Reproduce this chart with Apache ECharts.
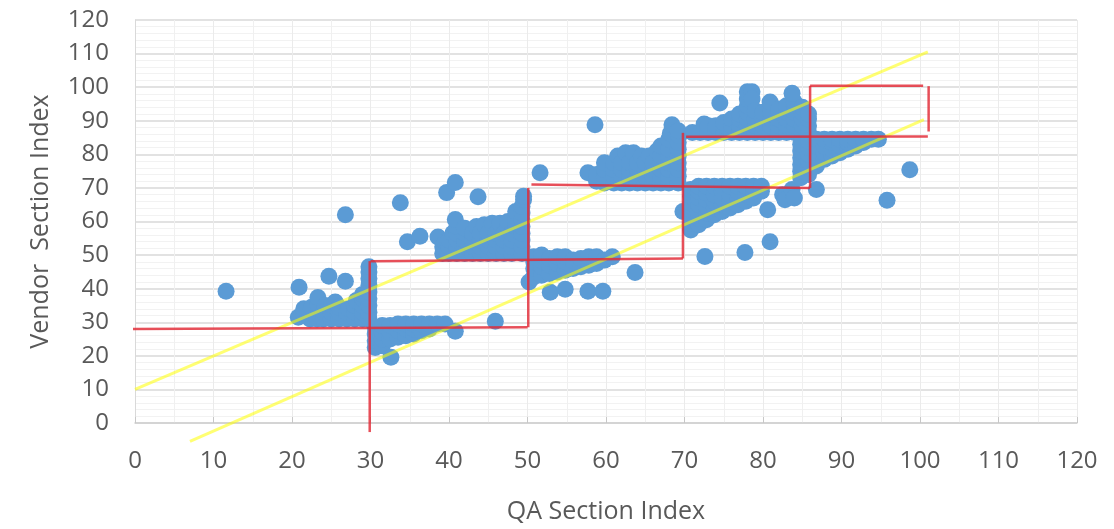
<!DOCTYPE html>
<html>
<head>
<meta charset="utf-8">
<script src="https://cdn.jsdelivr.net/npm/echarts@6/dist/echarts.min.js"></script>
<style>
  html, body { margin: 0; padding: 0; background: #ffffff; }
  #chart { width: 1114px; height: 529px; }
</style>
</head>
<body>
<div id="chart"></div>
<script>
// Axis settings
const axisMin = 0;
const axisMax = 120;
const tickStep = 10;
const xAxisTitle = 'QA Section Index';
const yAxisTitle = 'Vendor  Section Index';

// Section index pairs [QA, Vendor], grouped by QA range
const pointsQA10to30 = [
  [11.6,39.2],[20.9,40.4],[24.7,43.7],[26.8,42.2],[26.8,62],
  [20.8,31.5],[21.5,32.5],[21.5,34],[22.3,31],[22.3,33],[22.5,34.5],
  [23.2,31],[23.2,33],[23.3,35.3],[23.3,37.4],[24,31],[24,33],[24.2,35],
  [25,31],[25,33],[25,35],[25.5,36],[26,31],[26,33],[26,34.5],
  [27,31],[27,33],[27.2,34],[28,31],[28,33],[28,35],[28.2,36.5],
  [29,31],[29,33],[29,35],[29,37],[29,38.3],
  [29.8,31],[29.8,33],[29.8,35],[29.8,37],[29.8,39],[29.8,41],[29.8,43],[29.8,45],[29.8,46.5]
];
const pointsQA30to40 = [
  [30.6,22.5],[30.6,24.5],[30.6,26.5],[30.6,28.5],
  [31.5,23],[31.5,25],[31.5,27],[31.5,29],
  [32.5,25],[32.5,27],[32.5,29],[33.5,25.5],[33.5,27.5],[33.5,29.5],
  [34.5,26],[34.5,28],[34.5,29.5],[35.5,26.5],[35.5,28],[35.5,29.5],
  [36.5,27.5],[36.5,29.5],[37.5,28],[37.5,29.5],[38.5,29.5],[39.5,29.5],
  [32.6,19.6],[40.8,27.3],[45.9,30.3],
  [33.8,65.6],[34.7,54],[36.3,55.6],[38.6,55.4],[39.7,68.6]
];
const pointsQA40to50 = [
  [40.8,71.6],[43.7,67.4],
  [39.2,50.5],[39.2,52.5],[39.5,54],[40,50.5],[40,52.5],[40,54.5],[40.5,56.5],
  [41,50.5],[41,52.5],[41,54.5],[41,56.5],[41,58.5],[40.8,60.6],
  [42,50.5],[42,52.5],[42,54.5],[42,56.5],[42,58],
  [43,50.5],[43,52.5],[43,54.5],[43,56.5],[43.5,58.5],
  [44,50.5],[44,52.5],[44,54.5],[44,56.5],[44.5,59],
  [45,50.5],[45,52.5],[45,54.5],[45,56.5],[45.5,59.5],
  [46,50.5],[46,52.5],[46,54.5],[46,56.5],[46.5,59.5],
  [47,50.5],[47,52.5],[47,54.5],[47,56.5],[47.5,58.5],[47.5,60],
  [48,50.5],[48,52.5],[48,54.5],[48,56.5],[48.5,58.5],[48.5,60.5],[48.5,63],
  [49.3,50.5],[49.3,52.5],[49.3,54.5],[49.3,56.5],[49.3,58.5],[49.3,60.5],
  [49.3,62.5],[49.3,64.5],[49.5,66.5],[49.5,67.5]
];
const pointsQA50to60 = [
  [50.2,42],[51.6,74.5],[52.9,38.9],[54.8,39.8],[57.7,39.2],[59.6,39.2],
  [50.8,43.5],[50.8,46],[50.8,48],[50.8,49.5],[51.8,44],[51.8,46.5],[51.8,48.5],[51.8,50],
  [52.8,44.5],[52.8,47],[52.8,49],[53.8,45],[53.8,47.5],[53.8,49.5],
  [54.8,45.5],[54.8,48],[54.8,49.5],[55.8,46],[55.8,48.5],[56.8,46.5],[56.8,49],
  [57.8,47],[57.8,49.5],[58.8,47.5],[58.8,49.5],[59.8,48.5],[60.8,49.5],
  [58.6,88.8],[57.7,74.5],[58.8,72],[58.8,74],
  [59.8,71.5],[59.8,73.5],[59.8,75.5],[59.8,77.5]
];
const pointsQA60to70 = [
  [63.7,44.8],
  [61,71.5],[61,73.5],[61,75.5],[61,77.5],[61.5,79.5],
  [62,71.5],[62,73.5],[62,75.5],[62,77.5],[62.5,80.5],
  [63,71.5],[63,73.5],[63,75.5],[63,77.5],[63.5,80.5],
  [64,71.5],[64,73.5],[64,75.5],[64,77.5],[64.5,79.5],
  [65,71.5],[65,73.5],[65,75.5],[65,77.5],[65.5,79.5],
  [66,71.5],[66,73.5],[66,75.5],[66,77.5],[66.5,81],
  [67,71.5],[67,73.5],[67,75.5],[67,77.5],[67,79.5],[67,82.5],
  [68,71.5],[68,73.5],[68,75.5],[68,77.5],[68,79.5],[68,81.5],[68,84.5],[68.2,86.3],[68.4,88.8],
  [69.2,71.5],[69.2,73.5],[69.2,75.5],[69.2,77.5],[69.2,79.5],[69.2,81.5],
  [69.2,83.5],[69.3,85.5],[69.2,87],[69.8,63]
];
const pointsQA70to80 = [
  [72.6,49.6],[77.7,50.8],[74.5,95.3],
  [70.8,57.5],[70.8,59.5],[70.8,61.5],[70.8,63.5],[70.8,65.5],[70.8,67.5],[70.8,69.5],
  [71.8,59],[71.8,61],[71.8,63],[71.8,65],[71.8,67],[71.8,69],[71.8,70.5],
  [72.8,60.5],[72.8,62.5],[72.8,64.5],[72.8,66.5],[72.8,68.5],[72.8,70.5],
  [73.8,62],[73.8,64],[73.8,66],[73.8,68],[73.8,70.5],
  [74.8,63],[74.8,65],[74.8,67],[74.8,69],[74.8,70.5],
  [75.8,64],[75.8,66],[75.8,68],[75.8,70.5],
  [76.8,65],[76.8,67],[76.8,69],[76.8,70.5],
  [77.8,66],[77.8,68],[77.8,70.5],[78.8,67],[78.8,69],[78.8,70.5],
  [79.8,69],[79.8,70.5],
  [71,86.5],[72,86.5],[72.5,89],[73,86.5],[73,88.5],[74,86.5],[74,88.5],
  [75,86.5],[75,88.5],[75,89.5],[76,86.5],[76,88.5],[76,90.5],
  [77,86.5],[77,88.5],[77,90.5],[77,92],
  [78,86.5],[78,88.5],[78,90.5],[78,92.5],[78,94.5],[78,96.5],[78,98.6],
  [78.6,98.6],[78.6,96.5],
  [79,86.5],[79,88.5],[79,90.5],[79,93]
];
const pointsQA80to100 = [
  [80.9,54],[80.6,63.5],[82.5,68],[82.8,66.5],[83.7,69.5],[84,67],[86.8,69.5],[95.8,66.3],[98.7,75.4],
  [80,86.5],[80,88.5],[80,90.5],[80,92.5],
  [81,86.5],[81,88.5],[81,90.5],[81,92.5],[80.9,95.6],
  [82,86.5],[82,88.5],[82,90.5],[82,92.5],[82,93.5],
  [83,86.5],[83,88.5],[83,90.5],[83,92.5],[83,94.5],
  [84,86.5],[84,88.5],[84,90.5],[84,92.5],[84,94.5],[84,95.5],[83.7,98.2],
  [85,86.5],[85,88.5],[85,90.5],[85,92.5],[85,94],
  [85.8,86.5],[85.8,88.5],[85.8,90.5],[85.8,92],
  [84.8,73],[84.8,75],[84.8,77],[84.8,79],[84.8,81],[84.8,83],
  [85.8,74],[85.8,76],[85.8,78],[85.8,80],[85.8,82],[85.8,84],
  [86.8,76.5],[86.8,78.5],[86.8,80.5],[86.8,82.5],[86.8,84.5],
  [87.8,78.5],[87.8,80.5],[87.8,82.5],[87.8,84.5],
  [88.8,79.5],[88.8,81.5],[88.8,83.5],[88.8,84.5],
  [89.8,80.5],[89.8,82.5],[89.8,84.5],
  [90.8,81.5],[90.8,83.5],[90.8,84.5],
  [91.8,82.5],[91.8,84.5],[92.8,83.5],[92.8,84.5],[93.8,84.5],[94.7,84.5]
];

// Tolerance band edges (yellow)
const upperBandLine = [[0, 10], [101, 110.5]];
const lowerBandLine = [[7, -5.5], [100.5, 90.3]];

// Section boundary segments (red), each [start, end]
const boundarySegments = [
  [[-0.5, 28], [50, 28.5]],
  [[29.9, -2.7], [29.9, 48.2]],
  [[30, 48.2], [69.8, 49]],
  [[50.1, 28.5], [50.1, 70]],
  [[50.5, 71], [86, 70]],
  [[69.8, 49], [69.8, 86.4]],
  [[70.2, 85.2], [101, 85.3]],
  [[86, 70], [86, 100.4]],
  [[86, 100.4], [100.4, 100.4]],
  [[101.1, 86.8], [101.1, 100.3]]
];

const allPoints = [].concat(
  pointsQA10to30, pointsQA30to40, pointsQA40to50, pointsQA50to60,
  pointsQA60to70, pointsQA70to80, pointsQA80to100
);

const textColor = '#595959';
const fontFamily = '"Open Sans", "Liberation Sans", sans-serif';

const series = [
  {
    type: 'scatter',
    data: allPoints,
    symbolSize: 17,
    itemStyle: { color: '#5b9bd5', opacity: 1 },
    z: 2,
    silent: true
  },
  {
    type: 'line',
    data: upperBandLine,
    symbol: 'none',
    clip: false,
    lineStyle: { color: 'rgba(255,255,0,0.55)', width: 3 },
    z: 3,
    silent: true
  },
  {
    type: 'line',
    data: lowerBandLine,
    symbol: 'none',
    clip: false,
    lineStyle: { color: 'rgba(255,255,0,0.55)', width: 3 },
    z: 3,
    silent: true
  }
];

boundarySegments.forEach(function (seg) {
  series.push({
    type: 'line',
    data: seg,
    symbol: 'none',
    clip: false,
    lineStyle: { color: 'rgba(226,40,52,0.82)', width: 2.5 },
    z: 4,
    silent: true
  });
});

const chart = echarts.init(document.getElementById('chart'), null, { renderer: 'canvas' });
chart.setOption({
  animation: false,
  backgroundColor: '#ffffff',
  grid: { left: 135, right: 37, top: 20, bottom: 105, containLabel: false },
  xAxis: {
    type: 'value',
    min: axisMin,
    max: axisMax,
    interval: tickStep,
    name: xAxisTitle,
    nameLocation: 'middle',
    nameGap: 76,
    nameTextStyle: { color: textColor, fontSize: 25, fontFamily: fontFamily },
    axisLine: { show: true, lineStyle: { color: '#d0d0d0', width: 1.5 } },
    axisTick: { show: true, inside: true, length: 6, lineStyle: { color: '#c8c8c8' } },
    axisLabel: { color: textColor, fontSize: 24, fontFamily: fontFamily, margin: 26 },
    splitLine: { show: true, lineStyle: { color: '#ebebeb', width: 1 } },
    minorTick: { show: false, splitNumber: 2 },
    minorSplitLine: { show: true, lineStyle: { color: '#f0f0f0', width: 1 } }
  },
  yAxis: {
    type: 'value',
    min: axisMin,
    max: axisMax,
    interval: tickStep,
    name: yAxisTitle,
    nameLocation: 'middle',
    nameGap: 82,
    nameTextStyle: { color: textColor, fontSize: 25, fontFamily: fontFamily },
    axisLine: { show: true, lineStyle: { color: '#d9d9d9', width: 1 } },
    axisTick: { show: false },
    axisLabel: { color: textColor, fontSize: 24, fontFamily: fontFamily, margin: 26 },
    splitLine: { show: true, lineStyle: { color: '#d9d9d9', width: 1.5 } },
    minorTick: { show: false, splitNumber: 5 },
    minorSplitLine: { show: true, lineStyle: { color: '#f2f2f2', width: 1 } }
  },
  series: series
});
</script>
</body>
</html>
